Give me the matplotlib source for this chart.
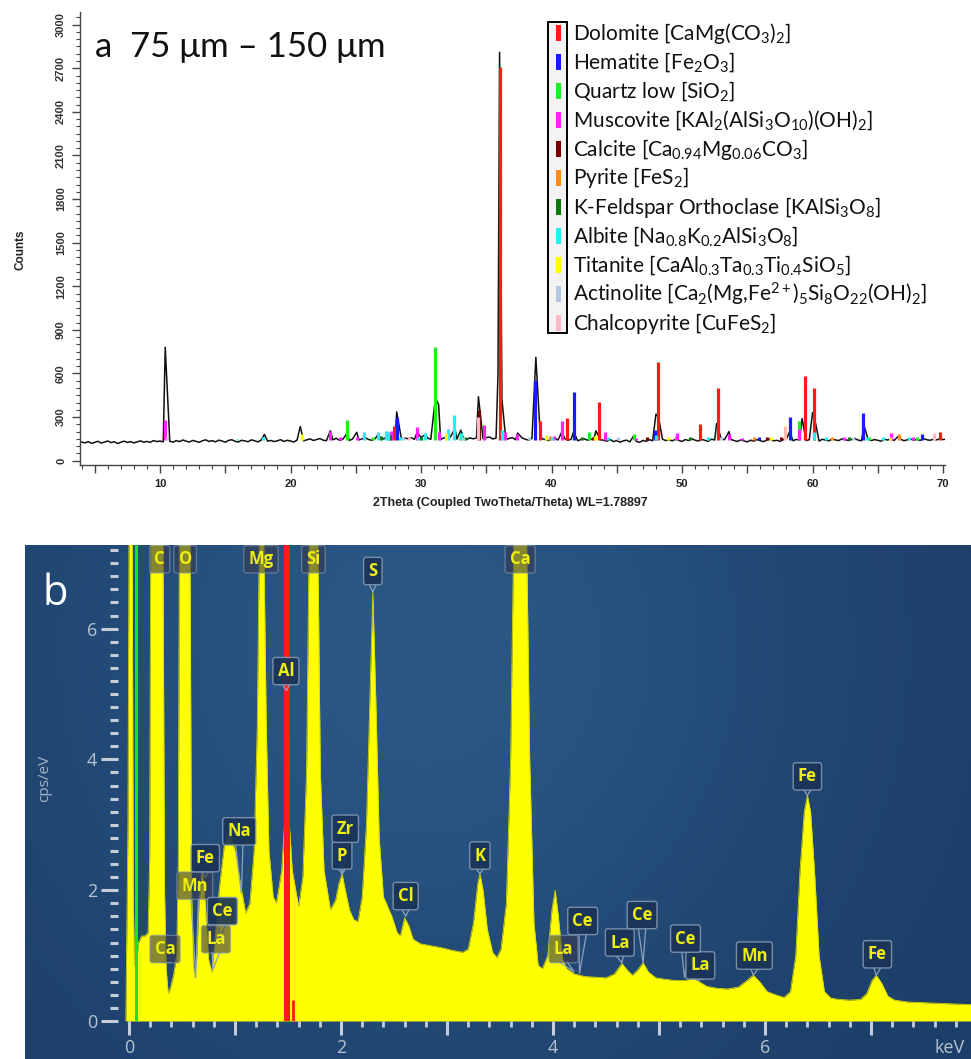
import numpy as np
import matplotlib
matplotlib.use("Agg")
import matplotlib.pyplot as plt
from matplotlib.ticker import MultipleLocator
from matplotlib.patches import Rectangle

plt.rcParams['font.family'] = ['Liberation Sans', 'DejaVu Sans']
plt.rcParams['mathtext.fontset'] = 'custom'
plt.rcParams['mathtext.rm'] = 'Lato'
plt.rcParams['mathtext.it'] = 'Lato:italic'
plt.rcParams['mathtext.bf'] = 'Lato:bold'
plt.rcParams['mathtext.default'] = 'regular'

# ---------------- Panel a data (XRD) ----------------
xrd_bg_start = 4.0
xrd_bg_step = 0.25
xrd_background = [
    128, 122, 131, 119, 126, 133, 121, 128, 135, 124, 130, 118, 127, 134, 125, 131, 122, 129, 136, 127,
    132, 126, 138, 131, 135, 129, 140, 133, 127, 138, 131, 142, 134, 128, 139, 133, 126, 137, 143, 132,
    138, 129, 141, 135, 127, 139, 144, 133, 128, 140, 136, 130, 143, 137, 129, 141, 146, 134, 139, 131,
    137, 144, 132, 140, 135, 128, 141, 147, 136, 143, 150, 139, 145, 152, 141, 137, 148, 143, 154, 140,
    146, 151, 139, 148, 155, 143, 150, 157, 145, 140, 152, 158, 147, 153, 144, 156, 150, 162, 148, 155,
    151, 158, 146, 153, 160, 149, 155, 147, 158, 152, 145, 157, 150, 163, 154, 148, 159, 152, 146, 157,
    150, 156, 160, 152, 158, 163, 149, 155, 160, 151, 145, 153, 158, 144, 150, 156, 147, 141, 152, 148,
    143, 151, 146, 138, 149, 155, 142, 148, 153, 140, 147, 151, 137, 145, 150, 141, 146, 153, 139, 144,
    140, 134, 145, 131, 138, 127, 136, 141, 129, 137, 132, 126, 139, 133, 144, 137, 131, 142, 148, 138,
    143, 136, 147, 139, 132, 145, 138, 150, 141, 135, 146, 140, 133, 148, 142, 137, 151, 144, 139, 146,
    138, 132, 143, 136, 129, 141, 134, 145, 137, 131, 142, 147, 136, 140, 133, 144, 150, 141, 137, 146,
    142, 149, 138, 144, 151, 140, 135, 147, 141, 136, 148, 143, 138, 150, 144, 139, 146, 152, 141, 137,
    143, 149, 138, 145, 140, 134, 147, 142, 151, 139, 144, 148, 137, 143, 150, 141, 146, 139, 152, 144,
    140, 147, 143, 150, 145, 148,
]
xrd_peak_pos = [10.4, 18.0, 20.75, 23.05, 24.35, 25.07, 26.7, 27.4, 28.14, 29.7, 30.35,
                31.1, 31.35, 32.6, 33.05, 34.4, 35.9, 36.02, 36.2, 37.4, 38.8, 39.1,
                40.8, 41.7, 43.4, 46.3, 48.0, 48.2, 52.65, 53.6, 58.25, 59.2, 60.0,
                60.25, 63.95, 66.6]
xrd_peak_counts = [780, 180, 235, 205, 190, 195, 180, 195, 335, 195, 180,
                   430, 385, 220, 210, 440, 600, 2810, 420, 190, 711, 230,
                   200, 200, 205, 170, 320, 300, 255, 200, 200, 290, 330,
                   250, 240, 170]

dolomite = [(27.96, 235), (36.04, 2710), (39.1, 270), (41.2, 292), (43.66, 406), (48.17, 680),
            (51.36, 250), (52.74, 500), (59.4, 580), (60.1, 500), (69.8, 200)]
hematite = [(28.14, 290), (38.76, 555), (41.7, 475), (47.9, 210), (58.3, 300), (63.9, 325),
            (68.4, 180), (55.9, 160)]
quartz = [(24.3, 280), (31.07, 780), (42.85, 200), (46.3, 180), (49.5, 170), (59.0, 270),
          (26.3, 165), (64.3, 160), (68.0, 165)]
muscovite = [(10.4, 280), (23.03, 205), (23.8, 160), (25.07, 165), (27.7, 205), (29.7, 234),
             (31.4, 200), (34.85, 245), (36.46, 200), (37.35, 180), (40.2, 170), (40.8, 270),
             (44.06, 195), (46.45, 155), (49.6, 190), (53.6, 185), (54.6, 155), (58.95, 215),
             (62.4, 165), (66.0, 190), (67.7, 165)]
calcite = [(34.45, 350), (43.2, 165), (47.3, 160), (56.5, 160), (57.6, 165)]
pyrite = [(33.0, 165), (39.9, 170), (55.5, 160), (61.5, 160), (66.6, 185)]
k_feldspar = [(26.9, 170), (27.6, 175), (30.0, 165), (33.4, 160), (42.3, 160), (50.6, 160),
              (62.8, 160)]
albite = [(15.9, 150), (17.9, 160), (25.6, 195), (26.7, 195), (27.3, 205), (27.5, 200),
          (28.4, 165), (29.8, 165), (30.3, 190), (32.1, 215), (32.5, 315), (33.06, 193),
          (36.2, 210), (40.0, 165), (44.3, 165), (48.0, 175), (52.0, 160), (60.1, 195),
          (61.0, 165), (64.2, 165), (65.4, 160), (67.4, 160)]
titanite = [(20.85, 185), (31.9, 190), (39.6, 175), (43.3, 170), (48.9, 165), (56.8, 160),
            (65.9, 160)]
actinolite = [(10.5, 160), (28.6, 165), (33.2, 165), (38.3, 160), (45.1, 160), (53.0, 160),
              (63.1, 160)]
chalcopyrite = [(34.35, 300), (29.1, 165), (57.9, 240), (69.3, 190)]

phase_data = [dolomite, hematite, quartz, muscovite, calcite, pyrite, k_feldspar,
              albite, titanite, actinolite, chalcopyrite]
phase_colors = ['#ff1a1a', '#1a1aff', '#22ee22', '#ff22ff', '#7a0000', '#ff8c1a',
                '#0a7a0a', '#22f0f0', '#ffff00', '#b4c6e0', '#ffb8c4']
phase_labels = [
    'Dolomite [CaMg(CO$_3$)$_2$]',
    'Hematite [Fe$_2$O$_3$]',
    'Quartz low [SiO$_2$]',
    'Muscovite [KAl$_2$(AlSi$_3$O$_{10}$)(OH)$_2$]',
    'Calcite [Ca$_{0.94}$Mg$_{0.06}$CO$_3$]',
    'Pyrite [FeS$_2$]',
    'K-Feldspar Orthoclase [KAlSi$_3$O$_8$]',
    'Albite [Na$_{0.8}$K$_{0.2}$AlSi$_3$O$_8$]',
    'Titanite [CaAl$_{0.3}$Ta$_{0.3}$Ti$_{0.4}$SiO$_5$]',
    'Actinolite [Ca$_2$(Mg,Fe$^{2+}$)$_5$Si$_8$O$_{22}$(OH)$_2$]',
    'Chalcopyrite [CuFeS$_2$]',
]

# ---------------- Panel b data (EDS) ----------------
eds_kev = [-0.03, -0.01, 0.0, 0.03, 0.04, 0.05, 0.07, 0.09, 0.12, 0.15, 0.18, 0.195, 0.205,
           0.32, 0.335, 0.35, 0.37, 0.39, 0.42, 0.45, 0.465, 0.475, 0.575, 0.59, 0.605, 0.62,
           0.64, 0.66, 0.69, 0.72, 0.75, 0.78, 0.81, 0.85, 0.90, 0.95, 1.00, 1.05, 1.10, 1.14,
           1.18, 1.21, 1.23, 1.27, 1.295, 1.32, 1.36, 1.39, 1.44, 1.49, 1.54, 1.60, 1.64, 1.675,
           1.70, 1.78, 1.805, 1.84, 1.90, 1.95, 1.98, 2.01, 2.04, 2.08, 2.12, 2.16, 2.20, 2.24,
           2.27, 2.30, 2.33, 2.36, 2.40, 2.44, 2.48, 2.53, 2.56, 2.60, 2.64, 2.68, 2.75, 2.85,
           2.95, 3.05, 3.15, 3.20, 3.25, 3.29, 3.31, 3.34, 3.38, 3.43, 3.47, 3.51, 3.56, 3.60,
           3.63, 3.75, 3.78, 3.82, 3.86, 3.90, 3.95, 3.99, 4.02, 4.05, 4.09, 4.13, 4.20, 4.30,
           4.40, 4.50, 4.58, 4.65, 4.70, 4.75, 4.80, 4.85, 4.90, 4.97, 5.05, 5.15, 5.25, 5.32,
           5.38, 5.45, 5.55, 5.65, 5.75, 5.83, 5.89, 5.95, 6.02, 6.10, 6.18, 6.24, 6.29, 6.33,
           6.37, 6.40, 6.43, 6.47, 6.51, 6.56, 6.62, 6.70, 6.80, 6.90, 6.96, 7.01, 7.05, 7.10,
           7.16, 7.22, 7.35, 7.50, 7.65, 7.80, 7.95]
eds_cps = [0.0, 3.0, 7.5, 7.5, 2.0, 0.85, 0.9, 1.2, 1.3, 1.3, 1.35, 2.5, 7.5,
           7.5, 2.0, 0.8, 0.42, 0.5, 0.7, 1.0, 2.5, 7.5, 7.5, 2.0, 0.9, 0.65,
           1.0, 1.8, 2.3, 1.8, 0.95, 0.74, 1.2, 2.0, 2.7, 2.9, 2.6, 2.1, 1.65, 1.8,
           2.6, 4.5, 7.5, 7.5, 4.5, 2.6, 1.9, 1.8, 2.3, 3.6, 2.3, 1.75, 2.2, 3.8,
           7.5, 7.5, 3.8, 2.3, 1.7, 1.85, 2.1, 2.25, 2.0, 1.7, 1.55, 1.52, 1.9, 3.0,
           4.8, 6.55, 4.8, 2.8, 1.9, 1.75, 1.6, 1.35, 1.3, 1.58, 1.45, 1.25, 1.18, 1.15,
           1.12, 1.08, 1.05, 1.1, 1.5, 2.1, 2.25, 2.0, 1.4, 1.05, 0.97, 1.1, 1.8, 4.0,
           7.5, 7.5, 4.0, 1.5, 0.85, 0.8, 1.0, 1.7, 2.0, 1.6, 0.95, 0.8, 0.72, 0.68,
           0.67, 0.66, 0.72, 0.88, 0.78, 0.70, 0.78, 0.89, 0.75, 0.66, 0.64, 0.62, 0.62, 0.66,
           0.60, 0.53, 0.50, 0.49, 0.52, 0.62, 0.70, 0.60, 0.45, 0.40, 0.36, 0.45, 1.0, 2.3,
           3.2, 3.45, 3.2, 2.2, 1.0, 0.45, 0.35, 0.33, 0.32, 0.33, 0.42, 0.62, 0.70, 0.58,
           0.38, 0.32, 0.29, 0.28, 0.27, 0.26, 0.25]
assert len(eds_kev) == len(eds_cps)

# reference lines: (keV, height, colour, width)
eds_line_kev = [0.07, 1.487, 1.55]
eds_line_top = [7.5, 7.5, 0.32]
eds_line_colors = ['#22dd22', '#ff1a1a', '#ff1a1a']
eds_line_widths = [2.2, 4.3, 2.0]

# element labels: text, box centre (keV, cps), pointer tip (keV, cps), translucent
eds_labels = [
    ('C', 0.29, 7.06, None, None, True),
    ('O', 0.53, 7.06, None, None, True),
    ('Mg', 1.245, 7.06, None, None, True),
    ('Si', 1.74, 7.06, None, None, True),
    ('Ca', 3.69, 7.06, None, None, True),
    ('S', 2.30, 6.88, 2.30, 6.56, False),
    ('Al', 1.48, 5.35, 1.487, 5.05, False),
    ('Fe', 6.40, 3.74, 6.40, 3.45, False),
    ('Na', 1.04, 2.90, 1.06, 1.95, False),
    ('Mn', 0.62, 2.07, 0.63, 0.67, True),
    ('Fe', 0.72, 2.49, 0.72, 2.20, False),
    ('La', 0.82, 1.25, 0.79, 0.78, True),
    ('Ce', 0.88, 1.68, 0.85, 1.25, False),
    ('Ca', 0.34, 1.10, 0.37, 0.90, True),
    ('P', 2.01, 2.53, 2.01, 2.25, False),
    ('Zr', 2.04, 2.94, 2.01, 2.25, False),
    ('Cl', 2.61, 1.91, 2.61, 1.60, False),
    ('K', 3.31, 2.53, 3.31, 2.25, False),
    ('La', 4.10, 1.10, 4.20, 0.75, True),
    ('Ce', 4.28, 1.53, 4.25, 0.73, False),
    ('La', 4.63, 1.20, 4.65, 0.89, False),
    ('Ce', 4.84, 1.62, 4.85, 0.89, False),
    ('La', 5.39, 0.85, 5.36, 0.62, False),
    ('Ce', 5.25, 1.26, 5.24, 0.67, False),
    ('Mn', 5.90, 1.00, 5.89, 0.70, False),
    ('Fe', 7.06, 1.02, 7.05, 0.70, False),
]

# ---------------- Figure ----------------
W, H = 971, 1059
fig = plt.figure(figsize=(W / 100, H / 100), dpi=100)
fig.patch.set_facecolor('white')


def fx(x):
    return x / W


def fy(y):
    return 1 - y / H


# ---- panel a ----
ax = fig.add_axes([fx(80), fy(465), fx(945) - fx(80), fy(12) - fy(465)])
bg_x = xrd_bg_start + xrd_bg_step * np.arange(len(xrd_background))
bg_y = np.array(xrd_background, dtype=float)
keep = np.ones(len(bg_x), dtype=bool)
for p in xrd_peak_pos:
    keep &= np.abs(bg_x - p) > 0.12
xs = np.concatenate([bg_x[keep], np.array(xrd_peak_pos)])
ys = np.concatenate([bg_y[keep], np.array(xrd_peak_counts, dtype=float)])
order = np.argsort(xs)
ax.plot(xs[order], ys[order], color='#111111', lw=1.1, zorder=2)

stick_base = 140
for data, col in zip(phase_data, phase_colors):
    pos = [d[0] for d in data]
    cnt = [d[1] for d in data]
    ax.vlines(pos, stick_base, cnt, colors=col, lw=2.3, zorder=3)

ax.set_xlim(3.87, 70.15)
ax.set_ylim(-30, 3087)
for s in ['top', 'right']:
    ax.spines[s].set_visible(False)
for s in ['left', 'bottom']:
    ax.spines[s].set_color('#444444')
    ax.spines[s].set_linewidth(1.0)

xt = list(range(5, 71, 5))
ax.set_xticks(xt)
ax.set_xticklabels([str(v) if v % 10 == 0 else '' for v in xt], fontsize=8,
                   fontweight='bold', color='#222222')
ax.xaxis.set_minor_locator(MultipleLocator(1))
yt = list(range(0, 3001, 300))
ax.set_yticks(yt)
ax.set_yticklabels([str(v) for v in yt], fontsize=8, fontweight='bold',
                   color='#333333', rotation=90, va='center')
ax.yaxis.set_minor_locator(MultipleLocator(50))
ax.tick_params(axis='both', which='major', direction='out', length=6, width=1, color='#444444', pad=4)
ax.tick_params(axis='both', which='minor', direction='out', length=3, width=0.8, color='#444444')

fig.text(fx(20), fy(250), 'Counts', rotation=90, ha='center', va='center',
         fontsize=8.5, fontweight='bold', color='#222222')
fig.text(fx(510), fy(503), '2Theta (Coupled TwoTheta/Theta) WL=1.78897', ha='center',
         va='center', fontsize=9, fontweight='bold', color='#222222')
fig.text(fx(95), fy(57), 'a  75 \u03bcm \u2013 150 \u03bcm', fontsize=25, family=['Lato', 'DejaVu Sans'],
         va='baseline', ha='left', color='#111111')

# legend
fig.add_artist(Rectangle((fx(548), fy(333)), fx(567) - fx(548), fy(22) - fy(333),
                         transform=fig.transFigure, fc='#f3f3f3', ec='black', lw=1.4))
for i, (lab, col) in enumerate(zip(phase_labels, phase_colors)):
    ry = 33 + i * 29
    fig.add_artist(Rectangle((fx(555.5), fy(ry + 7.5)), fx(5.5), 15 / H,
                             transform=fig.transFigure, fc=col, ec='none'))
    fig.text(fx(573), fy(ry), lab, fontsize=15, family=['Lato', 'DejaVu Sans'],
             va='center', ha='left', color='#111111')

# ---- panel b ----
bgax = fig.add_axes([fx(25), 0, fx(971) - fx(25), fy(545)])
gy, gx = np.mgrid[0:1:200j, 0:1:400j]
t = np.exp(-((gx - 0.42) ** 2 / 0.16 + (gy - 0.2) ** 2 / 0.6))
c_dark = np.array([0x1c, 0x3e, 0x68]) / 255
c_light = np.array([0x2b, 0x58, 0x86]) / 255
img = c_dark[None, None, :] * (1 - t[..., None]) + c_light[None, None, :] * t[..., None]
bgax.imshow(img, extent=[0, 1, 0, 1], aspect='auto', origin='upper')
bgax.set_axis_off()

axb = fig.add_axes([fx(118), fy(1021), fx(971) - fx(118), fy(545) - fy(1021)], facecolor='none')
axb.set_xlim((118 - 129) / 106, (971 - 129) / 106)
axb.set_ylim(0, (1021 - 545) / 65.4)
axb.fill_between(eds_kev, 0, eds_cps, color='#ffff00', lw=0, zorder=2)
axb.plot(eds_kev, eds_cps, color='#d6d600', lw=0.6, zorder=2)
for k, top, col, lw in zip(eds_line_kev, eds_line_top, eds_line_colors, eds_line_widths):
    axb.vlines(k, 0, top, colors=col, lw=lw, zorder=3)

for s in axb.spines.values():
    s.set_visible(False)
tick_col = '#c4ceda'
lab_col = '#b7c3d1'
xb = list(range(0, 8))
axb.set_xticks(xb)
axb.set_xticklabels([str(v) if v % 2 == 0 else '' for v in xb], fontsize=13,
                    family=['Open Sans', 'DejaVu Sans'], color=lab_col)
axb.xaxis.set_minor_locator(MultipleLocator(0.2))
axb.set_yticks([0, 2, 4, 6])
axb.set_yticklabels(['0', '2', '4', '6'], fontsize=13, family=['Open Sans', 'DejaVu Sans'],
                    color=lab_col)
axb.yaxis.set_minor_locator(MultipleLocator(0.2))
axb.tick_params(axis='x', which='major', direction='out', length=10, width=2.2, color=tick_col, pad=3)
axb.tick_params(axis='x', which='minor', direction='out', length=4, width=2.0, color=tick_col)
axb.tick_params(axis='y', which='major', direction='out', length=12, width=2.2, color=tick_col, pad=3)
axb.tick_params(axis='y', which='minor', direction='out', length=6, width=2.2, color=tick_col)

half_h = 0.2
for txt, cx, cy, tx, ty, trans in eds_labels:
    if tx is not None:
        axb.plot([cx - 0.035, tx, cx + 0.035], [cy - half_h, ty, cy - half_h],
                 color='#8da2ba', lw=0.9, zorder=4, clip_on=False)
    if trans:
        fc, alpha = '#383850', 0.6
    else:
        fc, alpha = '#1a3457', 0.92
    axb.text(cx, cy, txt, ha='center', va='center', fontsize=12, fontweight='bold',
             family=['Open Sans', 'DejaVu Sans'], color='#eeee10', zorder=5, clip_on=False,
             bbox=dict(boxstyle='round,pad=0.28,rounding_size=0.15', fc=fc, alpha=alpha,
                       ec='#7f95ae', lw=1.0))

fig.text(fx(45), fy(778), 'cps/eV', rotation=90, ha='center', va='center', fontsize=11,
         family=['Open Sans', 'DejaVu Sans'], color='#a8b5c6')
fig.text(fx(950), fy(1048), 'keV', ha='center', va='center', fontsize=13,
         family=['Open Sans', 'DejaVu Sans'], color=lab_col)
fig.text(fx(43), fy(605), 'b', ha='left', va='baseline', fontsize=30,
         family=['Open Sans', 'DejaVu Sans'], color='white')

fig.savefig('out.png', dpi=100)
